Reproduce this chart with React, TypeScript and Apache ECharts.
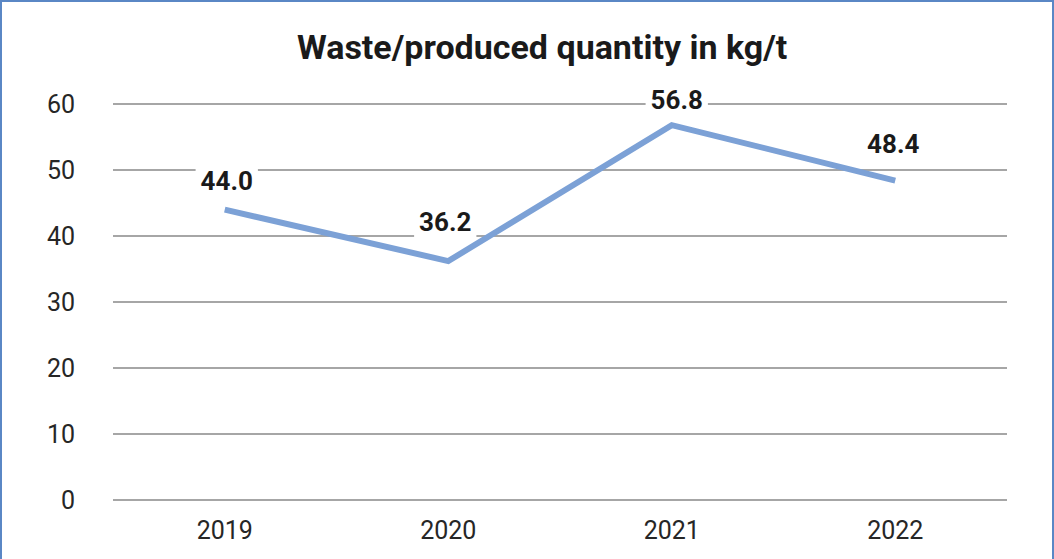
import React, { useEffect, useRef } from "react";
import * as echarts from "echarts";

const categories = ["2019", "2020", "2021", "2022"];
const values = [44.0, 36.2, 56.8, 48.4];
const yTicks = { min: 0, max: 60, interval: 10 };
const title = "Waste/produced quantity in kg/t";
// label nudges (style only), in pixels
const labelOffsets: [number, number][] = [[2, -2], [-3, -12], [5, 2], [-2, -10]];

export default function App() {
  const ref = useRef<HTMLDivElement>(null);
  useEffect(() => {
    if (!ref.current) return;
    const chart = echarts.init(ref.current, undefined, { renderer: "svg" });
    chart.setOption({
      animation: false,
      backgroundColor: "#ffffff",
      title: {
        text: title,
        left: 292,
        top: 25,
        textStyle: { fontFamily: "Roboto", fontWeight: "bold", fontSize: 34, color: "#1a1a1a" },
      },
      grid: { left: 113, right: 47, top: 104, bottom: 59 },
      xAxis: {
        type: "category",
        data: categories,
        boundaryGap: true,
        axisLine: { show: false },
        axisTick: { show: false },
        axisLabel: { fontFamily: "Roboto", fontSize: 25, color: "#262626", margin: 18 },
      },
      yAxis: {
        type: "value",
        min: yTicks.min,
        max: yTicks.max,
        interval: yTicks.interval,
        axisLine: { show: false },
        axisTick: { show: false },
        axisLabel: { fontFamily: "Roboto", fontSize: 25, color: "#262626", margin: 38, align: "right" },
        splitLine: { lineStyle: { color: "#a6a6a6", width: 2 } },
      },
      series: [
        {
          type: "line",
          data: values.map((v, i) => ({ value: v, label: { offset: labelOffsets[i] } })),
          symbol: "circle",
          symbolSize: 0,
          showSymbol: true,
          itemStyle: { color: "#7ca1d6" },
          lineStyle: { color: "#7ca1d6", width: 6, cap: "butt", join: "miter" },
          label: {
            show: true,
            position: "top",
            distance: 12,
            formatter: (p: any) => Number(p.value).toFixed(1),
            fontFamily: "Roboto",
            fontWeight: "bold",
            fontSize: 26,
            color: "#1a1a1a",
            backgroundColor: "#ffffff",
            padding: [2, 5],
          },
        },
      ],
    });
    return () => chart.dispose();
  }, []);
  return (
    <div style={{ position: "fixed", left: 0, top: 0, width: 1054, height: 559, background: "#fff" }}>
      <div ref={ref} style={{ width: 1054, height: 559 }} />
      <div
        style={{
          position: "absolute",
          left: 0,
          top: 0,
          width: 1054,
          height: 561,
          boxSizing: "border-box",
          border: "2px solid #5a87c5",
          pointerEvents: "none",
        }}
      />
    </div>
  );
}
